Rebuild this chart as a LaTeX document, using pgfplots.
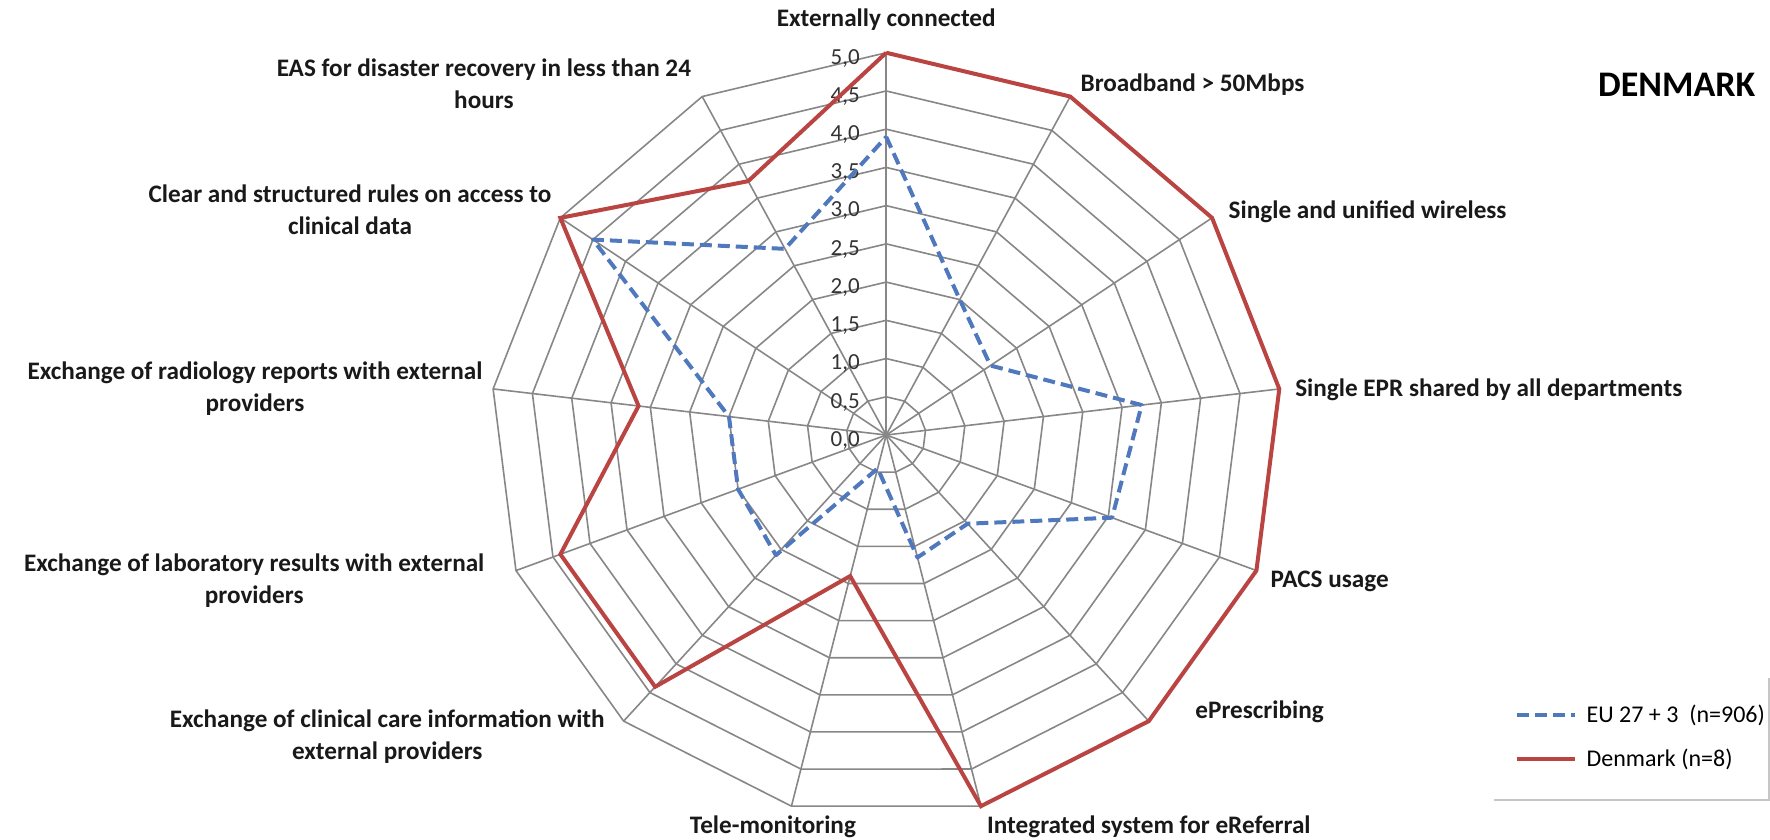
\documentclass[border=0pt]{standalone}
\usepackage{fontspec}
\setmainfont{Carlito}
\usepackage{pgfplots}
\pgfplotsset{compat=1.18}
\usepackage{pgfplotstable}
\definecolor{eublue}{RGB}{79,120,189}
\definecolor{dkred}{RGB}{185,68,66}
\definecolor{gridgray}{RGB}{135,135,135}

% k = spoke index, clockwise from top; v = score (0-5)
\pgfplotstableread{
k v
0 3.90
1 2.00
2 1.60
3 3.25
4 3.05
5 1.55
6 1.65
7 0.45
8 2.10
9 2.00
10 2.00
11 4.50
12 2.75
13 3.90
}\eudata
\pgfplotstableread{
k v
0 5.00
1 5.00
2 5.00
3 5.00
4 5.00
5 5.00
6 5.00
7 1.90
8 4.40
9 4.40
10 3.15
11 5.00
12 3.75
13 5.00
}\dkdata

\begin{document}
\begin{tikzpicture}
\begin{axis}[
  x=39.6pt, y=38.23pt,
  xmin=-11.19, xmax=11.16, ymin=-5.284, ymax=5.69,
  axis lines=none, clip=false,
  legend style={at={(axis cs:7.93,-3.52)}, anchor=north west,
    draw=none, fill=none, inner sep=0pt,
    font=\fontsize{12}{14}\selectfont, row sep=12pt, column sep=5pt,
    nodes={inner sep=0pt}},
  legend cell align=left,
  legend image code/.code={\draw[#1] (0pt,0pt) -- (29pt,0pt);},
]
\coordinate (bl) at (rel axis cs:0,0);
\coordinate (tr) at (rel axis cs:1,1);
% spider web grid
\pgfplotsinvokeforeach{0.5,1.0,1.5,2.0,2.5,3.0,3.5,4.0,4.5,5.0}{
  \draw[gridgray, line width=0.8pt] (axis cs:0,#1)
    \foreach \k in {1,...,12} { -- (axis cs:{#1*cos(90-\k*360/13)},{#1*sin(90-\k*360/13)}) } -- cycle;
}
\pgfplotsinvokeforeach{0,...,12}{
  \draw[gridgray, line width=0.8pt] (axis cs:0,0) -- (axis cs:{5*cos(90-#1*360/13)},{5*sin(90-#1*360/13)});
}
% radial tick labels
\begin{scope}[every node/.style={anchor=east, inner sep=0pt, text=black!80, font=\fontsize{11.5}{13}\selectfont}]
\node at (axis cs:-0.33,-0.07) {0,0};
\node at (axis cs:-0.33,0.43) {0,5};
\node at (axis cs:-0.33,0.93) {1,0};
\node at (axis cs:-0.33,1.43) {1,5};
\node at (axis cs:-0.33,1.93) {2,0};
\node at (axis cs:-0.33,2.43) {2,5};
\node at (axis cs:-0.33,2.93) {3,0};
\node at (axis cs:-0.33,3.43) {3,5};
\node at (axis cs:-0.33,3.93) {4,0};
\node at (axis cs:-0.33,4.43) {4,5};
\node at (axis cs:-0.33,4.93) {5,0};
\end{scope}

\addplot[eublue, line width=2pt, dash pattern=on 6pt off 3pt, line join=round]
  table[x expr={\thisrow{v}*cos(90-\thisrow{k}*360/13)}, y expr={\thisrow{v}*sin(90-\thisrow{k}*360/13)}] {\eudata};
\addlegendentry{EU 27 + 3\ \ (n=906)}
\addplot[dkred, line width=2pt, line join=miter]
  table[x expr={\thisrow{v}*cos(90-\thisrow{k}*360/13)}, y expr={\thisrow{v}*sin(90-\thisrow{k}*360/13)}] {\dkdata};
\addlegendentry{Denmark (n=8)}

% legend frame (bottom and right edges only)
\draw[gray!45, line width=0.8pt] (axis cs:7.67,-4.77) -- (axis cs:11.15,-4.77) -- (axis cs:11.15,-3.18);

% category labels
\begin{scope}[every node/.style={inner sep=0pt, text=black!90, align=center, font=\bfseries\fontsize{12.6}{16}\selectfont}]
\node[anchor=center] at (axis cs:0,5.43) {Externally connected};
\node[anchor=west] at (axis cs:2.45,4.58) {Broadband > 50Mbps};
\node[anchor=west] at (axis cs:4.32,2.92) {Single and unified wireless};
\node[anchor=west] at (axis cs:5.16,0.59) {Single EPR shared by all departments};
\node[anchor=west] at (axis cs:4.85,-1.91) {PACS usage};
\node[anchor=west] at (axis cs:3.90,-3.62) {ePrescribing};
\node[anchor=west] at (axis cs:1.27,-5.13) {Integrated system for eReferral};
\node[anchor=center] at (axis cs:-1.43,-5.13) {Tele-monitoring};
\node[anchor=center] at (axis cs:-6.30,-3.95) {Exchange of clinical care information with\\external providers};
\node[anchor=center] at (axis cs:-7.98,-1.90) {Exchange of laboratory results with external\\providers};
\node[anchor=center] at (axis cs:-7.97,0.61) {Exchange of radiology reports with external\\providers};
\node[anchor=center] at (axis cs:-6.77,2.94) {Clear and structured rules on access to\\clinical data};
\node[anchor=center] at (axis cs:-5.08,4.59) {EAS for disaster recovery in less than 24\\hours};
\end{scope}
\node[anchor=east, inner sep=0pt, font=\bfseries\fontsize{18}{20}\selectfont] at (axis cs:10.98,4.58) {DENMARK};
\end{axis}
\pgfresetboundingbox
\useasboundingbox (bl) rectangle (tr);
\end{tikzpicture}
\end{document}
